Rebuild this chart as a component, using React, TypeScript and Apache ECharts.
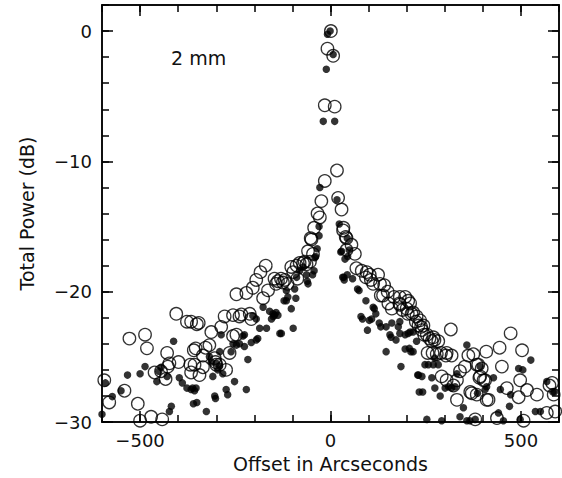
import React, { useEffect, useRef } from "react";
import * as echarts from "echarts";

// Axis ranges and tick labels
const xRange = [-600, 600];
const yRange = [-30, 2];
const xMajorTicks = [-500, 0, 500];
const yMajorTicks = [-30, -20, -10, 0];
const xTitle = "Offset in Arcseconds";
const yTitle = "Total Power (dB)";
const bandLabel = "2 mm";

// Open circles: [offset (arcsec), total power (dB)]
const openPoints: [number, number][] = [
  [1, 0.0], [-8, -1.35], [7, -1.9], [-15, -5.7], [11, -5.8], [17, -10.7], [-15, -11.5],
  [20, -12.8], [-24, -13.05], [29, -13.7], [-34, -14.0], [-28, -14.3], [34, -15.1], [-43, -15.1],
  [-52, -15.9], [40, -15.8], [-50, -16.0], [42, -16.8], [-59, -16.9], [-46, -17.1], [-68, -17.7],
  [-54, -17.7], [-81, -17.8], [-72, -17.8], [-63, -17.9], [-89, -18.0], [-103, -18.1], [-98, -18.5],
  [-87, -19.0], [-147, -19.0], [-138, -19.2], [-130, -19.0], [-125, -19.3], [-120, -19.1], [-113, -19.4],
  [-143, -19.4], [-170, -18.0], [-184, -18.5], [-195, -19.1], [-204, -19.7], [-221, -20.1], [-247, -20.2],
  [-177, -20.5], [-164, -19.9], [-212, -21.7], [-234, -21.75], [-256, -21.8], [-278, -21.9], [-239, -21.9],
  [-208, -22.1], [-287, -22.7], [-313, -23.1], [-346, -22.4], [-366, -22.3], [-247, -23.3], [-256, -23.4],
  [-318, -24.1], [-328, -24.3], [-354, -24.35], [-335, -24.9], [-304, -25.1], [-300, -25.6], [-357, -25.6],
  [-335, -25.8], [-265, -24.7], [-274, -26.0], [-291, -25.6], [-344, -26.4], [-302, -25.4],
  [-405, -21.7], [-377, -22.3], [-351, -22.5], [-528, -23.6], [-487, -23.3], [-482, -24.35], [-359, -24.5],
  [-368, -25.6], [-366, -26.2], [-429, -24.7], [-423, -25.5], [-399, -25.4], [-427, -25.75], [-462, -26.2],
  [-445, -26.1], [-433, -26.7], [-594, -26.8], [-541, -27.6], [-581, -28.5], [-506, -28.6], [-500, -29.9],
  [-471, -29.6], [-442, -29.8], [-591, -30.1], [-563, -30.1],
  [33, -15.3], [42, -15.9], [55, -16.4], [64, -17.1], [68, -18.2], [82, -18.4], [93, -18.9], [95, -18.5],
  [103, -18.7], [106, -19.1], [125, -18.7], [112, -19.4], [130, -19.4], [141, -19.5], [132, -20.3],
  [138, -20.3], [150, -20.0], [167, -20.4], [152, -20.9], [161, -21.3], [181, -20.9], [182, -20.4],
  [196, -20.4], [204, -20.7], [182, -21.0], [189, -21.4], [200, -21.3], [203, -21.7], [213, -21.7],
  [226, -21.9], [224, -22.3], [231, -22.6], [209, -20.9], [217, -21.6], [235, -22.2], [238, -22.7],
  [244, -22.6], [240, -22.95], [246, -23.3], [253, -23.3], [260, -23.6], [270, -23.5], [273, -23.7],
  [266, -23.8], [283, -23.8], [316, -22.9], [255, -24.7], [268, -24.7], [290, -24.7], [303, -24.9],
  [305, -24.7], [318, -24.9], [279, -24.8], [362, -24.9], [353, -25.75], [340, -26.1], [384, -25.6],
  [397, -25.9], [292, -26.5], [305, -26.8], [332, -26.8], [323, -27.2], [393, -26.5], [406, -26.8],
  [371, -27.8], [384, -27.9], [332, -28.3], [410, -28.3], [380, -29.8], [473, -23.2], [444, -24.3],
  [503, -24.5], [409, -24.6], [375, -24.8], [388, -25.6], [450, -25.75], [391, -26.6], [402, -26.8],
  [498, -26.8], [367, -27.7], [463, -27.4], [516, -27.55], [494, -28.1], [542, -27.9], [582, -27.0],
  [586, -27.9], [415, -28.3], [568, -29.3], [590, -29.2], [437, -29.7], [507, -29.9], [575, -27.2],
  [601, -28.4],
];

// Filled dots: [offset (arcsec), total power (dB)]
const filledPoints: [number, number][] = [
  [-1, 0.0], [-8, -0.25], [7, -1.8], [-11, -2.93], [-19, -6.93], [11, -6.93], [-28, -12.0],
  [17, -12.95], [23, -14.8], [-30, -15.0], [-30, -15.7], [44, -15.9], [29, -16.9], [-35, -16.7],
  [-39, -17.3], [-43, -18.4], [-47, -18.7], [-41, -17.4], [-72, -18.1], [-81, -18.4], [-63, -18.7],
  [-59, -19.4], [-61, -19.2], [-89, -18.9], [35, -18.9], [44, -18.7], [49, -16.8], [27, -16.95],
  [45, -17.3], [38, -17.5], [32, -18.9], [36, -19.1], [58, -19.0], [71, -19.8], [75, -19.9],
  [-116, -19.9], [-112, -20.4], [-94, -19.8], [-91, -20.5], [-103, -21.3], [-122, -20.7], [-151, -21.7],
  [-138, -21.8], [-155, -22.1], [-98, -22.8], [-116, -20.7], [-177, -21.2], [-160, -21.5], [-150, -21.9],
  [-143, -21.6], [-147, -21.8], [-204, -21.85], [-195, -22.1], [-129, -23.2], [-133, -23.2], [-186, -22.8],
  [-168, -22.8], [-191, -23.6], [-195, -23.7], [-208, -23.9], [-226, -23.3], [-230, -23.4], [-256, -24.0],
  [-247, -24.1], [-239, -24.0], [-226, -24.2], [-261, -24.6], [-287, -23.3], [-291, -24.6], [-318, -25.0],
  [-313, -25.4], [-300, -25.5], [-296, -26.0], [-291, -25.7], [-283, -26.3], [-309, -26.5], [-217, -25.2],
  [-252, -26.9], [-221, -27.5], [-274, -27.5], [-270, -27.9], [-304, -28.0], [-362, -27.4], [-357, -27.6],
  [-326, -29.2], [-302, -28.2],
  [-412, -23.8], [-397, -26.6], [-389, -27.0], [-377, -27.4], [-366, -27.5], [-353, -27.4], [-418, -28.8],
  [-423, -29.2], [-360, -28.6], [-351, -28.5], [-487, -25.75], [-500, -26.3], [-533, -26.4], [-445, -25.8],
  [-451, -26.1], [-429, -26.5], [-456, -26.9], [-550, -27.6], [-591, -27.0], [-573, -28.05], [-600, -29.4],
  [93, -20.7], [112, -21.2], [115, -21.3], [119, -21.7], [80, -21.9], [84, -22.1], [102, -22.2],
  [108, -22.1], [97, -22.95], [128, -22.4], [132, -22.7], [146, -22.7], [161, -22.4], [178, -22.7],
  [159, -23.5], [172, -23.7], [156, -23.3], [182, -23.2], [196, -23.3], [209, -23.1], [146, -24.6],
  [207, -24.35], [211, -24.6], [196, -24.4], [185, -25.75], [231, -26.4], [229, -26.4],
  [182, -22.3], [204, -23.2], [217, -23.1], [226, -23.8], [217, -24.6], [248, -25.6], [257, -25.6],
  [270, -25.6], [274, -25.1], [283, -25.6], [358, -24.1], [393, -25.75], [332, -26.3], [240, -26.5],
  [266, -26.6], [233, -27.7], [242, -27.7], [274, -27.4], [288, -28.0], [301, -27.4], [310, -27.3],
  [327, -27.3], [318, -27.4], [349, -28.9], [340, -29.6], [253, -29.8], [292, -29.9], [358, -29.9],
  [366, -29.9], [526, -25.25], [494, -25.9], [505, -26.0], [428, -26.6], [410, -27.3], [406, -27.5],
  [446, -27.5], [386, -27.8], [473, -27.9], [470, -28.8], [568, -26.9], [584, -27.7], [538, -29.2],
  [551, -29.2], [441, -29.3], [380, -29.8], [454, -29.9], [498, -29.8], [588, -27.7],
];

const FONT = "DejaVu Sans";
const fmt = (v: number) => (v < 0 ? "\u2212" + Math.abs(v) : String(v));

export default function App() {
  const ref = useRef<HTMLDivElement>(null);
  useEffect(() => {
    if (!ref.current) return;
    const chart = echarts.init(ref.current, undefined, { renderer: "svg" });
    const lineStyle = { color: "#000", width: 1.5 };
    const labelStyle = { color: "#111", fontFamily: FONT, fontSize: 18 };
    const titleStyle = { color: "#111", fontFamily: FONT, fontSize: 19 };
    const mkX = (pos: "top" | "bottom", major: boolean, labels: boolean) => ({
      type: "value",
      position: pos,
      min: xRange[0],
      max: xRange[1],
      interval: 100,
      splitLine: { show: false },
      axisLine: { show: true, onZero: false, lineStyle },
      axisTick: major
        ? { show: true, inside: true, length: 11, lineStyle, customValues: xMajorTicks }
        : { show: true, inside: true, length: 7, lineStyle },
      axisLabel: labels
        ? {
            show: true,
            margin: 9,
            ...labelStyle,
            formatter: (v: number) => (v % 500 === 0 ? fmt(v) : ""),
          }
        : { show: false },
      name: labels ? xTitle : "",
      nameLocation: "middle",
      nameGap: 32,
      nameTextStyle: titleStyle,
    });
    const mkY = (pos: "left" | "right", major: boolean, labels: boolean) => ({
      type: "value",
      position: pos,
      min: yRange[0],
      max: yRange[1],
      interval: 2,
      splitLine: { show: false },
      axisLine: { show: true, onZero: false, lineStyle },
      axisTick: major
        ? { show: true, inside: true, length: 11, lineStyle, customValues: yMajorTicks }
        : { show: true, inside: true, length: 7, lineStyle },
      axisLabel: labels
        ? {
            show: true,
            margin: 10,
            ...labelStyle,
            formatter: (v: number) => (v % 10 === 0 ? fmt(v) : ""),
          }
        : { show: false },
      name: labels ? yTitle : "",
      nameLocation: "middle",
      nameGap: 66,
      nameRotate: 90,
      nameTextStyle: titleStyle,
    });
    chart.setOption({
      animation: false,
      backgroundColor: "#fff",
      grid: { left: 102, top: 5, width: 457, height: 419, containLabel: false },
      xAxis: [mkX("bottom", false, true), mkX("bottom", true, false), mkX("top", false, false), mkX("top", true, false)],
      yAxis: [mkY("left", false, true), mkY("left", true, false), mkY("right", false, false), mkY("right", true, false)],
      graphic: [
        {
          type: "text",
          left: 171,
          top: 48,
          style: { text: bandLabel, fill: "#111", font: `19px "${FONT}"` },
        },
      ],
      series: [
        {
          type: "scatter",
          data: openPoints,
          symbol: "circle",
          symbolSize: 12.5,
          clip: true,
          itemStyle: { color: "rgba(0,0,0,0)", borderColor: "#000", borderWidth: 1.3 },
        },
        {
          type: "scatter",
          data: filledPoints,
          symbol: "circle",
          symbolSize: 7.5,
          clip: true,
          itemStyle: { color: "#000" },
        },
      ],
    });
    return () => chart.dispose();
  }, []);
  return (
    <div
      ref={ref}
      style={{ position: "fixed", left: 0, top: 0, width: 562, height: 478, background: "#fff" }}
    />
  );
}
